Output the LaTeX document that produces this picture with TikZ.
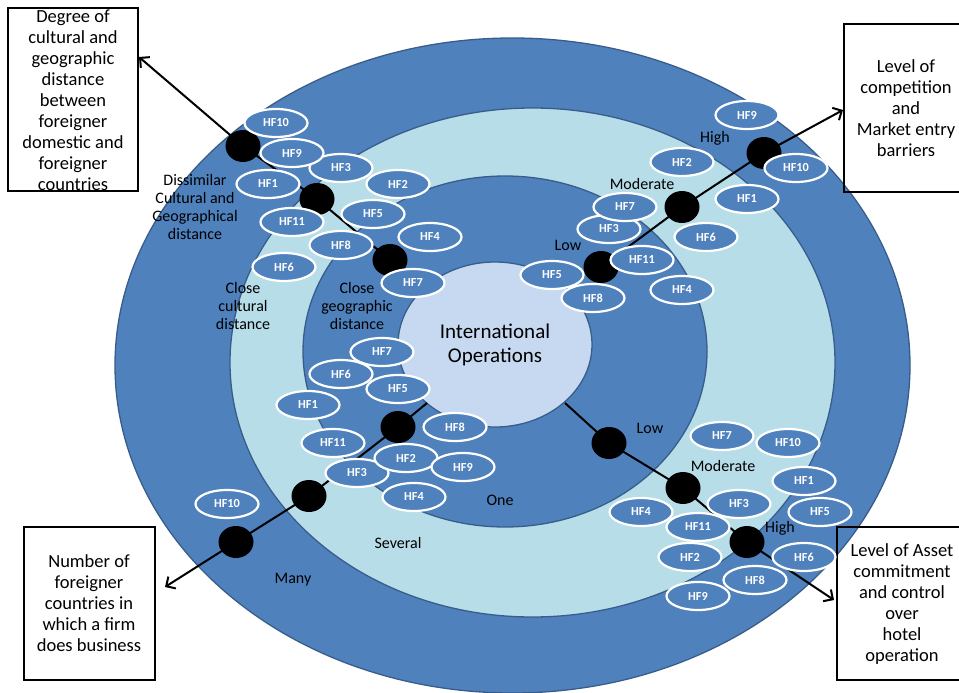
\documentclass[tikz,border=0pt]{standalone}
\usepackage{fontspec}
\setmainfont{Carlito}
\usetikzlibrary{shapes.geometric,arrows.meta}
\definecolor{ringblue}{HTML}{4F81BD}
\definecolor{ringedge}{HTML}{385D8A}
\definecolor{ringaqua}{HTML}{B7DDE8}
\definecolor{corefill}{HTML}{C6D9F1}
\pgfdeclarelayer{rings}
\pgfdeclarelayer{axes}
\pgfsetlayers{rings,axes,main}

\begin{document}
\begin{tikzpicture}[x=1pt,y=-1pt,
  ring/.style={draw=ringedge,line width=1.3pt},
  hf/.style={ellipse,draw=white,line width=2.2pt,fill=ringblue,text=white,
    font=\fontsize{12.3}{14}\selectfont\bfseries,
    minimum width=63pt,minimum height=28pt,inner sep=0pt},
  dot/.style={ellipse,fill=black,minimum width=35pt,minimum height=32pt,inner sep=0pt},
  axisarrow/.style={line width=2pt,black,line join=round,
    -{Straight Barb[length=7pt,width=14pt,line width=2pt]}},
  lbl/.style={align=center,font=\fontsize{16}{18}\selectfont,inner sep=0pt},
  boxtxt/.style={align=center,font=\fontsize{18.5}{21}\selectfont,inner sep=0pt},
  infobox/.style={draw=black,line width=2pt,inner sep=0pt}
]
\useasboundingbox (0,0) rectangle (959,693);

% concentric levels
\begin{pgfonlayer}{rings}
\draw[ring,fill=ringblue] (512.5,365.5) ellipse [x radius=397.5pt, y radius=327.5pt];
\draw[ring,fill=ringaqua] (532.5,362.5) ellipse [x radius=302.5pt, y radius=254.5pt];
\draw[ring,fill=ringblue] (505,351.5) ellipse [x radius=202pt, y radius=175.5pt];
\draw[ring,fill=corefill] (495,344.5) ellipse [x radius=97pt, y radius=82.5pt];
\end{pgfonlayer}

% dimension boxes
\node[infobox,minimum width=130pt,minimum height=183pt] (boxTL) at (73,99.5) {};
\node[infobox,minimum width=130pt,minimum height=168pt] (boxTR) at (909,108) {};
\node[infobox,minimum width=131pt,minimum height=153pt] (boxBL) at (89.5,603.5) {};
\node[infobox,minimum width=130pt,minimum height=153pt] (boxBR) at (902,603.5) {};

% level markers on each axis
\node[dot] (tl1) at (243,146) {};
\node[dot] (tl2) at (317,199) {};
\node[dot] (tl3) at (390,260) {};
\node[dot] (tr1) at (601,267) {};
\node[dot] (tr2) at (682,207) {};
\node[dot] (tr3) at (764,153) {};
\node[dot] (bl1) at (398,427) {};
\node[dot] (bl2) at (309,496) {};
\node[dot] (bl3) at (236,542) {};
\node[dot] (br1) at (609,443) {};
\node[dot] (br2) at (683,488) {};
\node[dot] (br3) at (747,542) {};

% arrow ends and axis starts
\coordinate (tlTip) at (139,57);
\coordinate (trTip) at (843,110);
\coordinate (blStart) at (427,403);
\coordinate (blTip) at (165,587);
\coordinate (brStart) at (565,403);
\coordinate (brTip) at (834,600);

% axes, kept beneath the markers
\begin{pgfonlayer}{axes}
\draw[axisarrow] (tl3.center) -- (tl2.center) -- (tl1.center) -- (tlTip);
\draw[axisarrow] (tr1.center) -- (tr2.center) -- (tr3.center) -- (trTip);
\draw[axisarrow] (blStart) -- (bl1.center) -- (bl2.center) -- (bl3.center) -- (blTip);
\draw[axisarrow] (brStart) -- (br1.center) -- (br2.center) -- (br3.center) -- (brTip);
\end{pgfonlayer}

% cultural and geographic distance factors
\node[hf] (a10) at (276,123) {HF10};
\node[hf] (a3)  at (341,168) {HF3};
\node[hf] (a9)  at (292,153) {HF9};
\node[hf] (a1)  at (268,184) {HF1};
\node[hf] (a2)  at (398,184) {HF2};
\node[hf] (a5)  at (373,214) {HF5};
\node[hf] (a11) at (292,222) {HF11};
\node[hf] (a4)  at (430,237) {HF4};
\node[hf] (a8)  at (341,245) {HF8};
\node[hf] (a6)  at (284,267) {HF6};
\node[hf] (a7)  at (413,283) {HF7};

% competition and entry barrier factors
\node[hf] (b9)  at (747,115) {HF9};
\node[hf] (b2)  at (682,162) {HF2};
\node[hf] (b10) at (796,168) {HF10};
\node[hf] (b1)  at (747,199) {HF1};
\node[hf] (b3)  at (609,229) {HF3};
\node[hf] (b7)  at (625,207) {HF7};
\node[hf] (b6)  at (706,237) {HF6};
\node[hf] (b5)  at (552,275) {HF5};
\node[hf] (b11) at (642,260) {HF11};
\node[hf] (b4)  at (682,290) {HF4};
\node[hf] (b8)  at (593,298) {HF8};

% number of countries factors
\node[hf] (c7)  at (382,352) {HF7};
\node[hf] (c6)  at (341,374) {HF6};
\node[hf] (c5)  at (398,389) {HF5};
\node[hf] (c1)  at (308,405) {HF1};
\node[hf] (c8)  at (455,427) {HF8};
\node[hf] (c11) at (333,443) {HF11};
\node[hf] (c3)  at (357,473) {HF3};
\node[hf] (c2)  at (406,458) {HF2};
\node[hf] (c9)  at (463,467) {HF9};
\node[hf] (c4)  at (414,497) {HF4};
\node[hf] (c10) at (227,504) {HF10};

% asset commitment factors
\node[hf] (d7)  at (722,436) {HF7};
\node[hf] (d10) at (788,443) {HF10};
\node[hf] (d1)  at (804,481) {HF1};
\node[hf] (d3)  at (739,504) {HF3};
\node[hf] (d4)  at (641,512) {HF4};
\node[hf] (d5)  at (820,512) {HF5};
\node[hf] (d11) at (698,527) {HF11};
\node[hf] (d2)  at (690,557) {HF2};
\node[hf] (d6)  at (804,557) {HF6};
\node[hf] (d8)  at (755,580) {HF8};
\node[hf] (d9)  at (698,596) {HF9};

% level labels
\node[lbl] (lDis) at (195,207) {Dissimilar\\Cultural and\\Geographical\\distance};
\node[lbl] (lCC) at (243,306) {Close\\cultural\\distance};
\node[lbl] (lCG) at (357,306) {Close\\geographic\\distance};
\node[lbl] (lHigh1) at (715,138) {High};
\node[lbl] (lMod1) at (642,184) {Moderate};
\node[lbl] (lLow1) at (568,245) {Low};
\node[lbl] (lLow2) at (650,428) {Low};
\node[lbl] (lMod2) at (723,466) {Moderate};
\node[lbl] (lHigh2) at (780,528) {High};
\node[lbl] (lOne) at (500,500) {One};
\node[lbl] (lSev) at (398,543) {Several};
\node[lbl] (lMany) at (293,580) {Many};

% core
\node[align=center,font=\fontsize{21}{24}\selectfont,inner sep=0pt] (core) at (495,345)
  {International\\Operations};

% box texts
\node[boxtxt] (tTL) at (73,100.5) {Degree of\\cultural and\\geographic\\distance\\between\\foreigner\\domestic and\\foreigner\\countries};
\node[boxtxt] (tTR) at (906,108.5) {Level of\\competition\\and\\Market entry\\barriers};
\node[boxtxt] (tBL) at (89,603.5) {Number of\\foreigner\\countries in\\which a firm\\does business};
\node[boxtxt] (tBR) at (902,604) {Level of Asset\\commitment\\ and control\\over\\hotel\\operation};
\end{tikzpicture}
\end{document}
